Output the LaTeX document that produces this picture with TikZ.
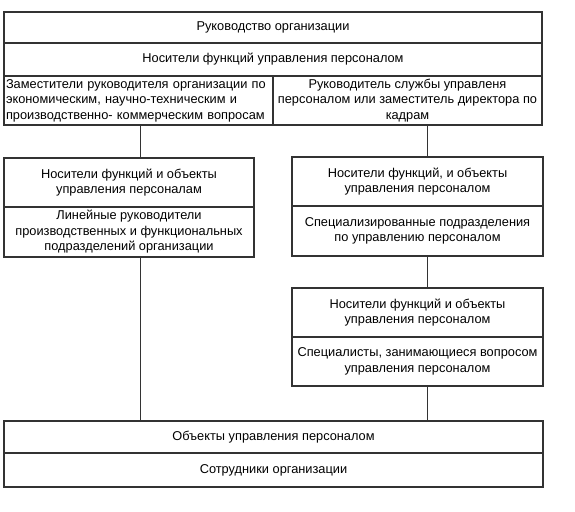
\documentclass[tikz,border=0pt]{standalone}
\usepackage{fontspec}
\setmainfont{Liberation Sans}
\usepackage{tikz}
\usetikzlibrary{positioning}
\tikzset{font={\fontsize{12.8pt}{15.5}\selectfont}}

\begin{document}
\begin{tikzpicture}[
  x=1pt, y=-1pt,
  node distance=0pt,
  cell/.style={rectangle, draw=black!80, line width=1.2pt, inner xsep=2pt, inner ysep=1pt, outer sep=0pt, align=center, anchor=north west},
  link/.style={draw=black!80, line width=1pt}
]
\useasboundingbox (0,0) rectangle (575,511);
% top block
\node[cell, minimum width=538, minimum height=31] (head) at (4,12) {Руководство организации};
\node[cell, minimum width=538, minimum height=33, below=of head] (carriers) {Носители функций управления персоналом};
\node[cell, minimum width=269, minimum height=49, align=left, text width=265] (deputies) at (carriers.south west) {Заместители руководителя организации по\\экономическим, научно-техническим и\\производственно- коммерческим вопросам};
\node[cell, minimum width=269, minimum height=49, right=of deputies] (hrhead) {Руководитель службы управленя\\персоналом или заместитель директора по\\кадрам};
% left branch
\node[cell, minimum width=250, minimum height=49] (lcarr) at (4,158) {Носители функций и объекты\\управления персоналам};
\node[cell, minimum width=250, minimum height=50, below=of lcarr] (linear) {Линейные руководители\\производственных и функциональных\\подразделений организации};
% right branch
\node[cell, minimum width=251, minimum height=49] (rcarr) at (292,157) {Носители функций, и объекты\\управления персоналом};
\node[cell, minimum width=251, minimum height=50, below=of rcarr] (special) {Специализированные подразделения\\по управлению персоналом};
\node[cell, minimum width=251, minimum height=49] (rcarr2) at (292,288) {Носители функций и объекты\\управления персоналом};
\node[cell, minimum width=251, minimum height=49, below=of rcarr2] (experts) {Специалисты, занимающиеся вопросом\\управления персоналом};
% bottom block
\node[cell, minimum width=539, minimum height=32] (objects) at (4,421) {Объекты управления персоналом};
\node[cell, minimum width=539, minimum height=34, below=of objects] (staff) {Сотрудники организации};
% connectors
\coordinate (lx) at (140,0);
\coordinate (rx) at (427,0);
\draw[link] (lx |- deputies.south) -- (lx |- lcarr.north);
\draw[link] (lx |- linear.south) -- (lx |- objects.north);
\draw[link] (rx |- hrhead.south) -- (rx |- rcarr.north);
\draw[link] (rx |- special.south) -- (rx |- rcarr2.north);
\draw[link] (rx |- experts.south) -- (rx |- objects.north);
\end{tikzpicture}
\end{document}
